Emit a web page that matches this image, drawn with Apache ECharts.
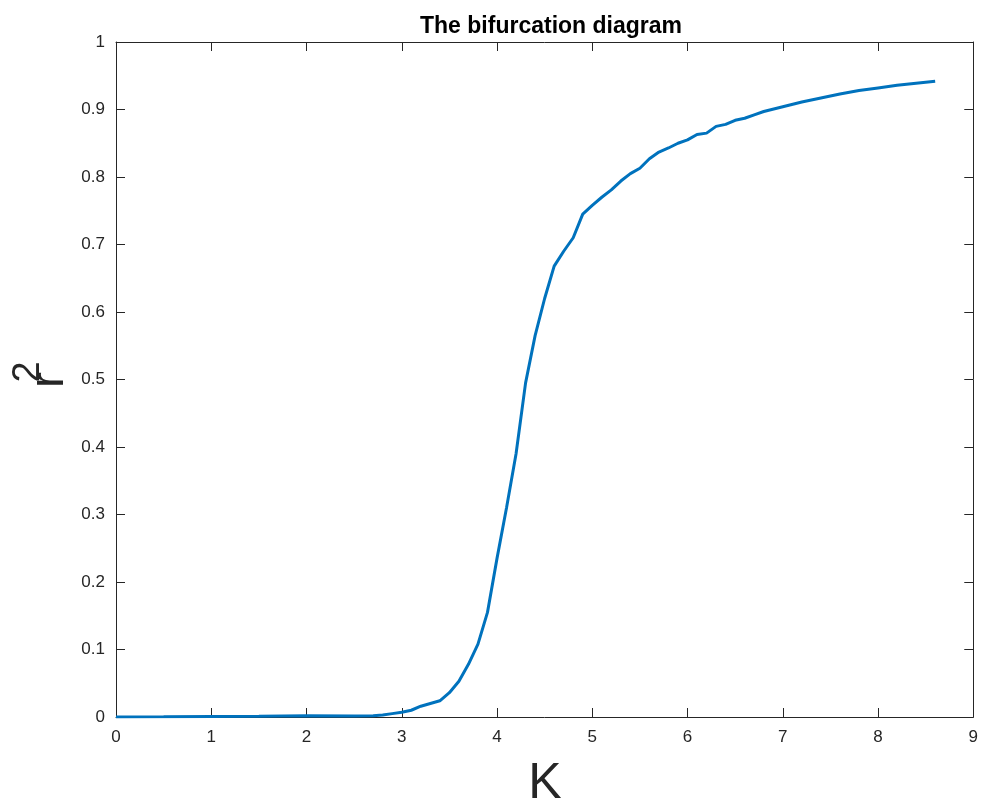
<!DOCTYPE html>
<html>
<head>
<meta charset="utf-8">
<script src="https://cdn.jsdelivr.net/npm/echarts@6/dist/echarts.min.js"></script>
<style>
  html, body { margin: 0; padding: 0; background: #fff; }
  #chart { width: 981px; height: 804px; }
</style>
</head>
<body>
<div id="chart"></div>
<script>
// K values and r^2
const kValues = [0, 0.5, 1, 1.5, 2, 2.5, 2.7, 2.8, 2.9, 3.0, 3.1, 3.2, 3.3, 3.4, 3.5, 3.6, 3.7, 3.8, 3.9,
  4.0, 4.1, 4.2, 4.3, 4.4, 4.5, 4.6, 4.7, 4.8, 4.9, 5.0, 5.1, 5.2, 5.3, 5.4, 5.5, 5.6, 5.7, 5.8, 5.9,
  6.0, 6.1, 6.2, 6.3, 6.4, 6.5, 6.6, 6.7, 6.8, 7.0, 7.2, 7.4, 7.6, 7.8, 8.0, 8.2, 8.4, 8.6]
const r2Values = [0, 0.0003, 0.0008, 0.0012, 0.0018, 0.0015, 0.002, 0.003, 0.005, 0.007, 0.01, 0.016, 0.02, 0.024, 0.036, 0.053, 0.078, 0.108, 0.155,
  0.235, 0.31, 0.39, 0.495, 0.565, 0.62, 0.668, 0.69, 0.71, 0.745, 0.758, 0.77, 0.781, 0.794, 0.805, 0.813, 0.827, 0.837, 0.843, 0.85,
  0.855, 0.863, 0.865, 0.875, 0.878, 0.884, 0.887, 0.892, 0.897, 0.904, 0.911, 0.917, 0.923, 0.928, 0.932, 0.936, 0.939, 0.942]

const titleText = 'The bifurcation diagram'
const xName = 'K'

const font = 'Liberation Sans, Arial, Helvetica, sans-serif'
const axisColor = '#262626'

const chart = echarts.init(document.getElementById('chart'))

const lineAxis = {
  axisLine: { show: true, onZero: false, lineStyle: { color: axisColor, width: 1 } },
  axisTick: { show: true, inside: true, length: 9, lineStyle: { color: axisColor } },
  splitLine: { show: false }
}

chart.setOption({
  backgroundColor: '#fff',
  animation: false,
  title: {
    text: titleText,
    left: 546,
    textAlign: 'center',
    top: 10,
    textStyle: { fontFamily: font, fontSize: 23, fontWeight: 'bold', color: '#000' }
  },
  grid: { left: 116, right: 5, top: 42, bottom: 87, containLabel: false },
  xAxis: [
    Object.assign({
      type: 'value', min: 0, max: 9, interval: 1, position: 'bottom',
      axisLabel: { fontFamily: font, fontSize: 17, color: axisColor, margin: 12 }
    }, lineAxis),
    Object.assign({
      type: 'value', min: 0, max: 9, interval: 1, position: 'top',
      axisLabel: { show: false }
    }, lineAxis)
  ],
  yAxis: [
    Object.assign({
      type: 'value', min: 0, max: 1, interval: 0.1, position: 'left',
      axisLabel: { fontFamily: font, fontSize: 17, color: axisColor, margin: 11 }
    }, lineAxis),
    Object.assign({
      type: 'value', min: 0, max: 1, interval: 0.1, position: 'right',
      axisLabel: { show: false }
    }, lineAxis)
  ],
  graphic: [
    {
      type: 'text', x: 545, y: 784,
      style: { text: xName, font: '50px ' + font, fill: axisColor, textAlign: 'center', textVerticalAlign: 'middle' }
    },
    {
      type: 'text', x: 50, y: 380, rotation: Math.PI / 2,
      style: { text: 'r', font: '48px ' + font, fill: axisColor, textAlign: 'center', textVerticalAlign: 'middle' }
    },
    {
      type: 'text', x: 29, y: 372, rotation: Math.PI / 2,
      style: { text: '2', font: '38px ' + font, fill: axisColor, textAlign: 'center', textVerticalAlign: 'middle' }
    }
  ],
  series: [{
    type: 'line',
    data: kValues.map((k, i) => [k, r2Values[i]]),
    showSymbol: false,
    smooth: false,
    lineStyle: { color: '#0072BD', width: 3 },
    itemStyle: { color: '#0072BD' }
  }]
})
</script>
</body>
</html>
